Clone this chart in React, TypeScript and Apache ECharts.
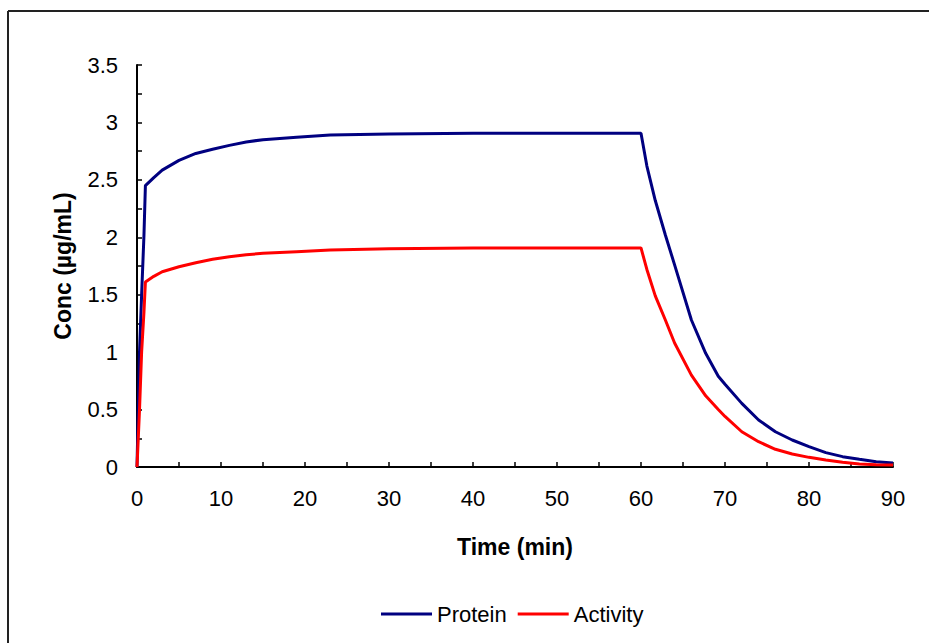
import React, { useEffect, useRef } from "react";
import * as echarts from "echarts";

const timeMin = [0, 0.3, 0.55, 0.83, 1, 2, 3, 5, 7, 9, 11, 13, 15, 19, 23, 30, 40, 50, 60, 60.7, 61.7, 62.9, 64, 66, 67.7, 69.2, 70, 72, 74, 76, 78, 80, 82, 84, 86, 88, 90];
const protein = [0, 1.0, 1.5, 2.02, 2.45, 2.52, 2.585, 2.67, 2.73, 2.766, 2.8, 2.83, 2.85, 2.87, 2.89, 2.9, 2.905, 2.905, 2.905, 2.62, 2.32, 2.02, 1.76, 1.28, 0.99, 0.79, 0.72, 0.554, 0.409, 0.307, 0.235, 0.177, 0.125, 0.09, 0.067, 0.046, 0.035];
const activity = [0, 0.5, 1.0, 1.35, 1.61, 1.66, 1.7, 1.744, 1.779, 1.808, 1.831, 1.848, 1.86, 1.875, 1.89, 1.9, 1.907, 1.907, 1.907, 1.72, 1.49, 1.28, 1.08, 0.8, 0.62, 0.5, 0.44, 0.307, 0.22, 0.154, 0.113, 0.084, 0.061, 0.041, 0.026, 0.02, 0.017];

const xLabels = ["0", "10", "20", "30", "40", "50", "60", "70", "80", "90"];
const yLabels = ["0", "0.5", "1", "1.5", "2", "2.5", "3", "3.5"];

const FONT = "'Liberation Sans', Arial, sans-serif";

export default function App() {
  const ref = useRef<HTMLDivElement>(null);
  useEffect(() => {
    if (!ref.current) return;
    const chart = echarts.init(ref.current, undefined, { renderer: "svg" });
    const pair = (vals: number[]) => timeMin.map((t, i) => [t, vals[i]]);
    chart.setOption({
      animation: false,
      backgroundColor: "#ffffff",
      grid: { left: 137, right: 36, top: 65, bottom: 176, containLabel: false },
      graphic: [
        { type: "line", shape: { x1: 8, y1: 11, x2: 929, y2: 11 }, style: { stroke: "#222", lineWidth: 2 } },
        { type: "line", shape: { x1: 8, y1: 11, x2: 8, y2: 643 }, style: { stroke: "#222", lineWidth: 2 } },
      ],
      legend: {
        left: 381,
        top: 603,
        padding: 0,
        icon: "rect",
        itemWidth: 51,
        itemHeight: 3,
        itemGap: 11,
        textStyle: { fontFamily: FONT, fontSize: 22, color: "#000" },
        data: ["Protein", "Activity"],
      },
      xAxis: {
        type: "value",
        min: 0,
        max: 90,
        interval: 5,
        name: "Time (min)",
        nameLocation: "middle",
        nameGap: 68,
        nameTextStyle: { fontFamily: FONT, fontSize: 23, fontWeight: "bold", color: "#000" },
        axisLine: { lineStyle: { color: "#000", width: 2 } },
        axisTick: { inside: true, length: 5, lineStyle: { color: "#000", width: 1.5 } },
        axisLabel: {
          margin: 20,
          fontFamily: FONT,
          fontSize: 22,
          color: "#000",
          formatter: (v: number) => (v % 10 === 0 ? xLabels[v / 10] : ""),
        },
        splitLine: { show: false },
      },
      yAxis: {
        type: "value",
        min: 0,
        max: 3.5,
        interval: 0.25,
        name: "Conc (µg/mL)",
        nameLocation: "middle",
        nameGap: 63,
        nameTextStyle: { fontFamily: FONT, fontSize: 23, fontWeight: "bold", color: "#000" },
        axisLine: { show: true, lineStyle: { color: "#000", width: 2 } },
        axisTick: { show: true, inside: true, length: 5, lineStyle: { color: "#000", width: 1.5 } },
        axisLabel: {
          margin: 19,
          fontFamily: FONT,
          fontSize: 22,
          color: "#000",
          formatter: (v: number) => (Math.abs((v * 2) % 1) < 1e-9 ? yLabels[Math.round(v * 2)] : ""),
        },
        splitLine: { show: false },
      },
      series: [
        {
          name: "Protein",
          type: "line",
          data: pair(protein),
          showSymbol: false,
          lineStyle: { color: "#000080", width: 3 },
          itemStyle: { color: "#000080" },
        },
        {
          name: "Activity",
          type: "line",
          data: pair(activity),
          showSymbol: false,
          lineStyle: { color: "#ff0000", width: 3 },
          itemStyle: { color: "#ff0000" },
        },
      ],
    });
    return () => chart.dispose();
  }, []);
  return (
    <div
      ref={ref}
      style={{ position: "absolute", left: 0, top: 0, width: 929, height: 643 }}
    />
  );
}
